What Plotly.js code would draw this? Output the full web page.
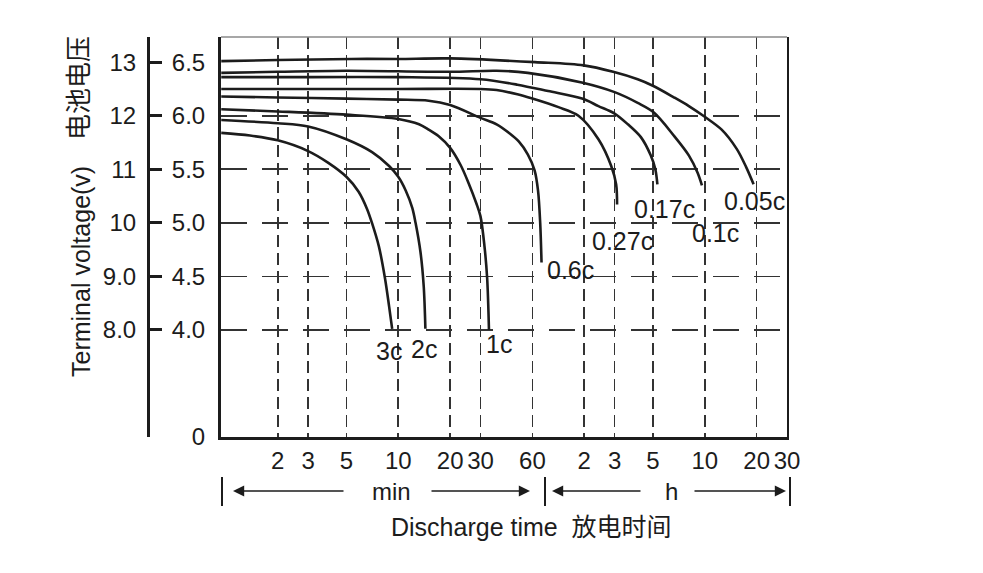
<!DOCTYPE html>
<html><head><meta charset="utf-8">
<script src="https://cdn.plot.ly/plotly-3.0.1.min.js"></script>
<style>html,body{margin:0;padding:0;background:#fff;}#chart{width:983px;height:573px;}</style>
</head><body><div id="chart"></div>
<script>
// discharge rates (labels of the curves)
const rateLabels = ["3c", "2c", "1c", "0.6c", "0.27c", "0.17c", "0.1c", "0.05c"];

// discharge time in minutes, terminal voltage on the 6 V scale
const t3c = [0.94, 1.38, 2, 3, 3.93, 5, 5.89, 6.59, 7.07, 7.72, 8.38, 8.85, 9.22];
const v3c = [5.84, 5.815, 5.77, 5.67, 5.56, 5.43, 5.29, 5.13, 4.99, 4.78, 4.48, 4.22, 4.01];

const t2c = [0.94, 2, 3, 5, 7.05, 8.85, 10, 11.06, 12.06, 12.6, 13.45, 14.05, 14.37];
const v2c = [5.96, 5.93, 5.90, 5.78, 5.66, 5.53, 5.43, 5.30, 5.14, 5.00, 4.73, 4.41, 4.01];

const t1c = [0.94, 2, 5, 10, 13.2, 15.0, 17.1, 20, 23.0, 25.6, 28.4, 30, 31.6, 32.8, 33.6];
const v1c = [6.06, 6.04, 6.01, 5.97, 5.92, 5.87, 5.81, 5.70, 5.54, 5.37, 5.18, 5.06, 4.79, 4.48, 4.00];

const t06c = [0.94, 2, 5, 10, 15, 20, 30, 37.2, 44.7, 50, 56.4, 61.8, 64.7, 66.6, 67.8];
const v06c = [6.18, 6.17, 6.16, 6.15, 6.14, 6.10, 5.98, 5.92, 5.83, 5.76, 5.64, 5.49, 5.30, 5.00, 4.63];

const t027c = [0.94, 2, 10, 30, 37.2, 49.1, 60, 85, 111, 145, 172, 183.6, 186];
const v027c = [6.25, 6.25, 6.25, 6.25, 6.24, 6.20, 6.16, 6.08, 6.00, 5.78, 5.53, 5.36, 5.17];

const t017c = [0.94, 2, 10, 30, 49.1, 74.1, 116.4, 145, 180, 214.8, 255.6, 291.5, 310, 318.7];
const v017c = [6.36, 6.36, 6.36, 6.34, 6.29, 6.23, 6.16, 6.09, 6.02, 5.92, 5.80, 5.63, 5.50, 5.36];

const t01c = [0.94, 2, 5, 20, 37.2, 56.4, 116, 180, 244.9, 304, 399, 484.8, 544.5, 577.8];
const v01c = [6.40, 6.41, 6.42, 6.41, 6.42, 6.40, 6.31, 6.22, 6.12, 6.03, 5.81, 5.63, 5.47, 5.35];

const t005c = [0.94, 2, 5.35, 10, 20, 62.1, 119, 176.5, 244.9, 300, 399, 485, 600, 752, 919.5, 1043, 1152];
const v005c = [6.51, 6.52, 6.53, 6.53, 6.535, 6.50, 6.47, 6.41, 6.34, 6.28, 6.17, 6.09, 5.99, 5.87, 5.69, 5.52, 5.36];

// where each rate label sits (minutes, volts on the 6 V scale)
const labelTime = [8.85, 14.05, 38.2, 99.9, 201, 349, 692, 1173];
const labelVolt = [3.80, 3.82, 3.87, 4.555, 4.826, 5.129, 4.905, 5.203];

// tick labels
const timeTickVals = [2, 3, 5, 10, 20, 30, 60, 120, 180, 300, 600, 1200, 1800];
const timeTickText = ["2", "3", "5", "10", "20", "30", "60", "2", "3", "5", "10", "20", "30"];
const volt6Vals = [3.0, 4.0, 4.5, 5.0, 5.5, 6.0, 6.5];
const volt6Text = ["0", "4.0", "4.5", "5.0", "5.5", "6.0", "6.5"];
const volt12Vals = [8, 9, 10, 11, 12, 13];
const volt12Text = ["8.0", "9.0", "10", "11", "12", "13"];
const gridVolts = [4.0, 4.5, 5.0, 5.5, 6.0];

const seriesT = [t3c, t2c, t1c, t06c, t027c, t017c, t01c, t005c];
const seriesV = [v3c, v2c, v1c, v06c, v027c, v017c, v01c, v005c];

const FONT = "Liberation Sans, Arial, Helvetica, Noto Sans CJK SC, sans-serif";
const INK = "#1c1c1c";

const traces = seriesT.map((t, i) => ({
  type: "scatter", mode: "lines", x: t, y: seriesV[i], name: rateLabels[i],
  xaxis: "x", yaxis: "y",
  line: {color: INK, width: 2.6, shape: "spline", smoothing: 0.9},
  hoverinfo: "skip", showlegend: false
}));
// invisible anchors so the 12 V scale and the grid/right-frame axis are drawn
traces.push({type: "scatter", mode: "markers", x: [timeTickVals[0]], y: [volt12Vals[0]],
  xaxis: "x", yaxis: "y2", marker: {opacity: 0}, hoverinfo: "skip", showlegend: false});
traces.push({type: "scatter", mode: "markers", x: [timeTickVals[0]], y: [gridVolts[0]],
  xaxis: "x", yaxis: "y3", marker: {opacity: 0}, hoverinfo: "skip", showlegend: false});

const yRange6 = [3.0, 6.735];
const yRange12 = [yRange6[0] * 2, yRange6[1] * 2];
const xRange = [Math.log10(0.937), Math.log10(1800)];

const annotations = rateLabels.map((s, i) => ({
  text: s, xref: "x", yref: "y", x: Math.log10(labelTime[i]), y: labelVolt[i],
  xanchor: "center", yanchor: "middle",
  showarrow: false, font: {family: FONT, size: 25, color: INK}
}));

// paper coordinates helpers (layout frame, not data)
const L = 140, R = 196, T = 37, B = 136, W = 983, H = 573;
const pw = W - L - R, ph = H - T - B;
const px = v => (v - L) / pw;
const py = v => (H - B - v) / ph;

const note = (text, x, y, size, extra) => Object.assign({
  text: text, xref: "paper", yref: "paper", x: px(x), y: py(y), xanchor: "center", yanchor: "middle",
  showarrow: false, font: {family: FONT, size: size, color: INK}
}, extra || {});

annotations.push(
  note("Terminal voltage(v)", 81, 272, 25, {textangle: -90}),
  note("电池电压", 79, 88, 26, {textangle: -90}),
  note("min", 391, 491, 24),
  note("h", 671, 491, 24),
  note("Discharge time  放电时间", 531, 527, 25)
);
const arrows = [[233, 345], [530, 430], [552, 642], [786, 693]];
arrows.forEach(([head, tail]) => annotations.push({
  text: "", xref: "paper", yref: "paper", x: px(head), y: py(491), ax: tail - head, ay: 0,
  showarrow: true, arrowhead: 2, arrowsize: 1.4, arrowwidth: 1.6, arrowcolor: INK
}));

const shapes = [222, 545, 790].map(x => ({
  type: "line", xref: "paper", yref: "paper", x0: px(x), x1: px(x), y0: py(477), y1: py(506),
  line: {color: INK, width: 2}
}));
shapes.push({type: "line", xref: "paper", yref: "paper", x0: (221 - L) / pw, x1: 1, y0: 1, y1: 1,
  line: {color: "#8a8a8a", width: 1.5}});

const layout = {
  width: W, height: H, margin: {l: L, r: R, t: T, b: B},
  paper_bgcolor: "#fff", plot_bgcolor: "#fff",
  font: {family: FONT, color: INK, size: 24},
  showlegend: false,
  xaxis: {
    type: "log", range: xRange, domain: [(221 - L) / pw, 1],
    tickmode: "array", tickvals: timeTickVals, ticktext: timeTickText, tickangle: 0,
    ticks: "",
    tickfont: {family: FONT, size: 24, color: INK},
    showgrid: true, gridcolor: "#333", gridwidth: 1.6, griddash: "12px,6px",
    showline: true, linecolor: INK, linewidth: 3, zeroline: false, anchor: "y"
  },
  yaxis: {
    range: yRange6, anchor: "x",
    tickmode: "array", tickvals: volt6Vals, ticktext: volt6Text,
    ticks: "outside", ticklen: 8, tickcolor: "rgba(0,0,0,0)",
    tickfont: {family: FONT, size: 24, color: INK},
    showgrid: false, showline: true, linecolor: INK, linewidth: 3, zeroline: false
  },
  yaxis3: {
    range: yRange6, overlaying: "y", side: "right", anchor: "x",
    tickmode: "array", tickvals: gridVolts, showticklabels: false, ticks: "",
    showgrid: true, gridcolor: "#333", gridwidth: 1.6, griddash: "26px,15px",
    showline: true, linecolor: INK, linewidth: 2, zeroline: false
  },
  yaxis2: {
    range: yRange12, overlaying: "y", anchor: "free", position: (148 - L) / pw, side: "left",
    tickmode: "array", tickvals: volt12Vals, ticktext: volt12Text,
    ticks: "inside", ticklen: 12, tickwidth: 3, tickcolor: INK, ticklabelstandoff: 6,
    tickfont: {family: FONT, size: 24, color: INK},
    showgrid: false, showline: true, linecolor: INK, linewidth: 3, zeroline: false
  },
  annotations: annotations,
  shapes: shapes
};

Plotly.newPlot("chart", traces, layout, {staticPlot: true, displayModeBar: false});
</script>
</body></html>
